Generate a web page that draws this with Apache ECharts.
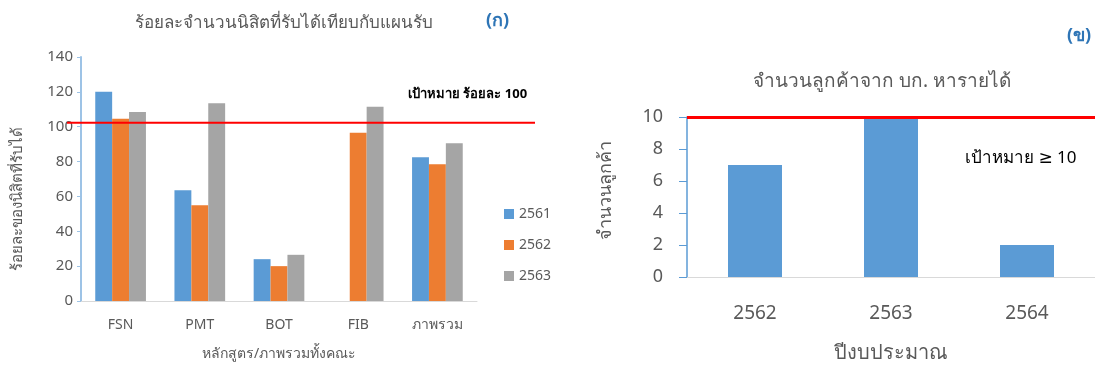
<!DOCTYPE html>
<html>
<head>
<meta charset="utf-8">
<script src="https://cdn.jsdelivr.net/npm/echarts@6/dist/echarts.min.js"></script>
<style>
  html, body { margin: 0; padding: 0; background: #fff; }
  #chart { width: 1095px; height: 366px; }
</style>
</head>
<body>
<div id="chart"></div>
<script>
// (ก) admission rate versus plan, per programme
const programmes = ['FSN', 'PMT', 'BOT', 'FIB', 'ภาพรวม'];
const years = ['2561', '2562', '2563'];
const pct2561 = [120, 63.5, 24, null, 82.5];
const pct2562 = [104.5, 55, 20, 96.5, 78.5];
const pct2563 = [108.5, 113.5, 26.5, 111.5, 90.5];
const pctTarget = 102.5;
const pctTicks = { min: 0, max: 140, interval: 20 };

// (ข) customers from the graduate school
const fiscalYears = ['2562', '2563', '2564'];
const customers = [7, 10, 2];
const customerTarget = 10;
const customerTicks = { min: 0, max: 10, interval: 2 };

const FONT = '"Noto Sans", "DejaVu Sans", sans-serif';
const GREY_TEXT = '#595959';
const BLUE = '#5B9BD5', ORANGE = '#ED7D31', GREY = '#A5A5A5';

const chart = echarts.init(document.getElementById('chart'), null, { renderer: 'canvas' });

const seriesColors = [BLUE, ORANGE, GREY];
const pctSeries = [pct2561, pct2562, pct2563].map((vals, i) => ({
  name: years[i],
  type: 'bar',
  xAxisIndex: 0,
  yAxisIndex: 0,
  data: vals,
  barGap: '0%',
  barCategoryGap: '36%',
  itemStyle: { color: seriesColors[i] },
  silent: true
}));

chart.setOption({
  animation: false,
  textStyle: { fontFamily: FONT },
  title: [
    {
      text: 'ร้อยละจำนวนนิสิตที่รับได้เทียบกับแผนรับ',
      left: 279, top: 10, textAlign: 'center',
      textStyle: { fontSize: 17, fontWeight: 'normal', color: GREY_TEXT, fontFamily: FONT }
    },
    {
      text: 'จำนวนลูกค้าจาก บก. หารายได้',
      left: 877, top: 67, textAlign: 'center',
      textStyle: { fontSize: 19, fontWeight: 'normal', color: GREY_TEXT, fontFamily: FONT }
    }
  ],
  legend: {
    data: years,
    orient: 'vertical',
    left: 499, top: 202,
    itemWidth: 10, itemHeight: 10, itemGap: 17,
    icon: 'rect',
    textStyle: { fontSize: 14, color: GREY_TEXT, fontFamily: FONT }
  },
  grid: [
    { left: 81, top: 57, width: 396, height: 245 },
    { left: 67, top: 57, width: 468, height: 245 },
    { left: 687, top: 117, width: 408, height: 160 }
  ],
  xAxis: [
    {
      type: 'category', gridIndex: 0, data: programmes,
      axisLine: { lineStyle: { color: '#D9D9D9', width: 1 } },
      axisTick: { show: false },
      axisLabel: { color: GREY_TEXT, fontSize: 14, margin: 17, fontFamily: FONT },
      name: 'หลักสูตร/ภาพรวมทั้งคณะ', nameLocation: 'middle', nameGap: 46,
      nameTextStyle: { color: GREY_TEXT, fontSize: 14, fontFamily: FONT }
    },
    { type: 'value', gridIndex: 1, min: 0, max: 1, show: false },
    {
      type: 'category', gridIndex: 2, data: fiscalYears,
      axisLine: { lineStyle: { color: '#D9D9D9', width: 1 } },
      axisTick: { show: false },
      axisLabel: { color: GREY_TEXT, fontSize: 19, margin: 27, fontFamily: FONT },
      name: 'ปีงบประมาณ', nameLocation: 'middle', nameGap: 66,
      nameTextStyle: { color: GREY_TEXT, fontSize: 20, fontFamily: FONT }
    }
  ],
  yAxis: [
    {
      type: 'value', gridIndex: 0,
      min: pctTicks.min, max: pctTicks.max, interval: pctTicks.interval,
      axisLine: { show: true, lineStyle: { color: '#9DC3E6', width: 2 } },
      axisTick: { show: true, length: 4, lineStyle: { color: '#9DC3E6' } },
      splitLine: { show: false },
      axisLabel: { color: GREY_TEXT, fontSize: 15, margin: 8, fontFamily: FONT }
    },
    { type: 'value', gridIndex: 1, min: pctTicks.min, max: pctTicks.max, show: false },
    {
      type: 'value', gridIndex: 2,
      min: customerTicks.min, max: customerTicks.max, interval: customerTicks.interval,
      axisLine: { show: true, lineStyle: { color: BLUE, width: 1.5 } },
      axisTick: { show: true, length: 8, lineStyle: { color: BLUE } },
      splitLine: { show: false },
      axisLabel: { color: GREY_TEXT, fontSize: 18, margin: 24, fontFamily: FONT }
    }
  ],
  series: [
    ...pctSeries,
    {
      // target line drawn across the whole left panel
      type: 'line', xAxisIndex: 1, yAxisIndex: 1,
      data: [[0, pctTarget], [1, pctTarget]],
      symbol: 'none', silent: true,
      lineStyle: { color: '#FF0000', width: 2 }
    },
    {
      type: 'bar', xAxisIndex: 2, yAxisIndex: 2,
      data: customers,
      barWidth: 54,
      itemStyle: { color: BLUE },
      silent: true,
      markLine: {
        silent: true, symbol: 'none',
        label: { show: false },
        lineStyle: { color: '#FF0000', width: 3, type: 'solid' },
        data: [{ yAxis: customerTarget }]
      }
    }
  ],
  graphic: [
    {
      type: 'text', left: 486, top: 12,
      style: { text: '(ก)', fill: '#2E75B6', font: 'bold 18px ' + FONT }
    },
    {
      type: 'text', left: 1067, top: 27,
      style: { text: '(ข)', fill: '#2E75B6', font: 'bold 18px ' + FONT }
    },
    {
      type: 'text', left: 408, top: 88,
      style: { text: 'เป้าหมาย ร้อยละ 100', fill: '#000', font: 'bold 13px ' + FONT }
    },
    {
      type: 'text', left: 965, top: 150,
      style: { text: 'เป้าหมาย ≥ 10', fill: '#000', font: '17px ' + FONT }
    },
    {
      type: 'text', x: 18, y: 199, rotation: Math.PI / 2,
      style: { text: 'ร้อยละของนิสิตที่รับได้', fill: GREY_TEXT, font: '15px ' + FONT, align: 'center', verticalAlign: 'middle' }
    },
    {
      type: 'text', x: 606, y: 190, rotation: Math.PI / 2,
      style: { text: 'จำนวนลูกค้า', fill: GREY_TEXT, font: '18px ' + FONT, align: 'center', verticalAlign: 'middle' }
    }
  ]
});
</script>
</body>
</html>
